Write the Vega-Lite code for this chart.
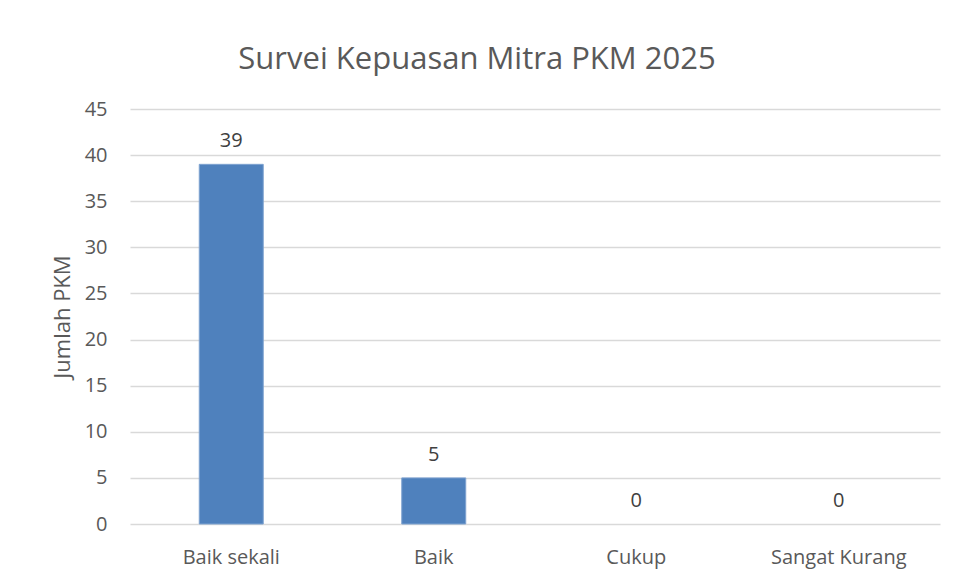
{
  "$schema": "https://vega.github.io/schema/vega-lite/v6.json",
  "width": 810,
  "height": 415,
  "autosize": {"type": "none"},
  "padding": {"left": 130, "top": 109, "right": 19, "bottom": 56},
  "background": "white",
  "title": {
    "text": "Survei Kepuasan Mitra PKM 2025",
    "font": "Open Sans",
    "fontSize": 31,
    "fontWeight": "normal",
    "color": "#595959",
    "anchor": "middle",
    "frame": "group",
    "baseline": "alphabetic",
    "offset": -1,
    "dx": -58
  },
  "data": {
    "values": [
      {"kategori": "Baik sekali", "jumlah": 39},
      {"kategori": "Baik", "jumlah": 5},
      {"kategori": "Cukup", "jumlah": 0},
      {"kategori": "Sangat Kurang", "jumlah": 0}
    ]
  },
  "encoding": {
    "x": {
      "field": "kategori",
      "type": "nominal",
      "sort": null,
      "scale": {"paddingInner": 0, "paddingOuter": 0},
      "axis": {
        "title": null,
        "labelAngle": 0,
        "labelFont": "Open Sans",
        "labelFontSize": 20,
        "labelColor": "#595959",
        "labelBaseline": "alphabetic",
        "labelPadding": 39,
        "ticks": false,
        "domain": false,
        "grid": false
      }
    },
    "y": {
      "field": "jumlah",
      "type": "quantitative",
      "scale": {"domain": [0, 45], "nice": false},
      "axis": {
        "title": "Jumlah PKM",
        "titleFont": "Open Sans",
        "titleFontSize": 22,
        "titleFontWeight": "normal",
        "titleColor": "#595959",
        "titlePadding": 10,
        "values": [0, 5, 10, 15, 20, 25, 30, 35, 40, 45],
        "labelFont": "Open Sans",
        "labelFontSize": 20,
        "labelColor": "#595959",
        "labelPadding": 23,
        "ticks": false,
        "domain": false,
        "grid": true,
        "gridColor": "#D9D9D9",
        "gridWidth": 1.5
      }
    }
  },
  "layer": [
    {
      "transform": [{"filter": "datum.jumlah > 0"}],
      "mark": {"type": "bar", "width": {"band": 0.316}, "color": "#4F81BD", "stroke": "#7FA3D0", "strokeWidth": 1}
    },
    {
      "mark": {"type": "text", "font": "Open Sans", "fontSize": 20, "color": "#404040", "baseline": "alphabetic", "dy": -17},
      "encoding": {"text": {"field": "jumlah", "type": "quantitative"}}
    }
  ],
  "config": {
    "view": {"stroke": null}
  }
}
